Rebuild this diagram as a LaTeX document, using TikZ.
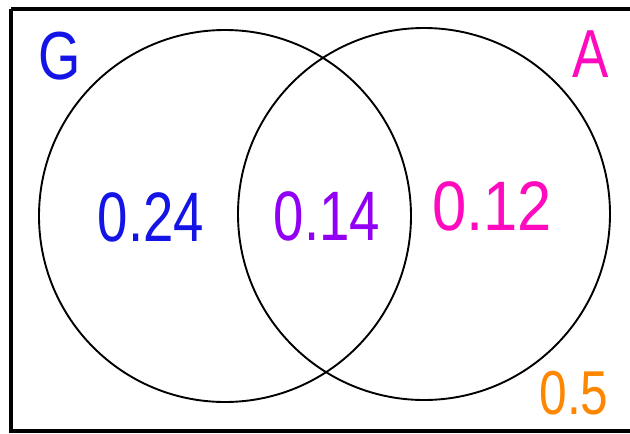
\documentclass[tikz,border=0pt]{standalone}
\usepackage{fontspec}
\setmainfont{Liberation Sans}
\definecolor{gblue}{RGB}{20,20,230}
\definecolor{vpurple}{RGB}{145,0,245}
\definecolor{amag}{RGB}{255,10,190}
\definecolor{norange}{RGB}{255,135,0}
\tikzset{
  lbl/.style={inner sep=0pt, font=\fontsize{70}{70}\selectfont},
  setcircle/.style={draw=black, line width=1.9pt},
}
\begin{document}
\begin{tikzpicture}[x=1pt,y=-1pt]
\useasboundingbox (0,0) rectangle (630,434);
\fill[white] (0,0) rectangle (630,434);
\draw[line width=4.5pt] (11,9) -- (640,9);
\draw[line width=4.5pt] (11,9) -- (11,431) -- (640,431);
\node[setcircle, circle, minimum size=372pt, inner sep=0pt] (cg) at (225,216) {};
\node[setcircle, circle, minimum size=372pt, inner sep=0pt] (ca) at (424,214) {};
\node[lbl, text=gblue, font=\fontsize{68}{68}\selectfont, xscale=0.8] (g) at (60,56) {G};
\node[lbl, text=amag, font=\fontsize{68}{68}\selectfont, xscale=0.8] (a) at (591,54) {A};
\node[lbl, text=gblue, xscale=0.78] (v1) at (151,217) {0.24};
\node[lbl, text=vpurple, xscale=0.78] (v2) at (327,216) {0.14};
\node[lbl, text=amag, xscale=0.88] (v3) at (492,206) {0.12};
\node[lbl, text=norange, font=\fontsize{62}{62}\selectfont, xscale=0.8] (v4) at (574,393) {0.5};
\end{tikzpicture}
\end{document}
